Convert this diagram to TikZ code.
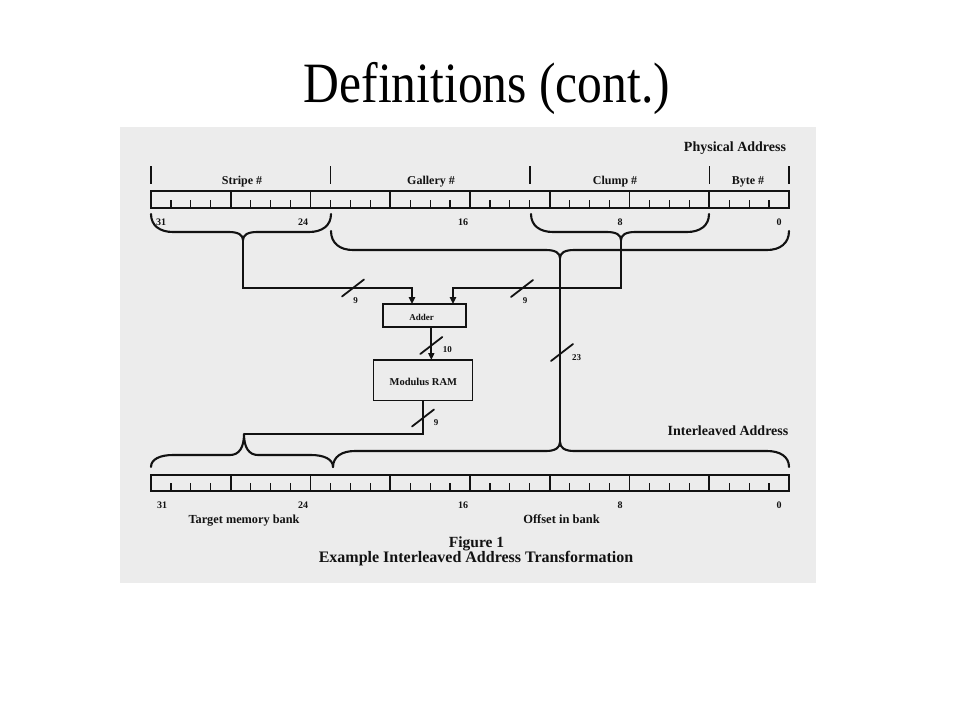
\documentclass[tikz,border=0pt]{standalone}
\usepackage{graphicx}
\usepackage{fontspec}
\setmainfont{Liberation Serif}
\usetikzlibrary{arrows.meta}
\definecolor{scan}{RGB}{236,236,236}
\definecolor{ink}{RGB}{18,18,18}
\tikzset{
  brace/.style={line width=2.1pt, line cap=round, line join=round, draw=ink},
  reg/.style={line width=1.6pt, draw=ink},
  tickst/.style={line width=1.2pt, draw=ink},
  wire/.style={line width=1.8pt, draw=ink},
  arr/.style={wire, -{Triangle[length=7pt,width=6pt]}},
  slashmark/.style={line width=1.8pt, draw=ink, line cap=round},
  boxst/.style={draw=ink, line width=1.5pt, fill=scan, inner sep=0pt, text=ink},
  txt/.style={text=ink, inner sep=0pt, font=\bfseries\fontsize{#1}{#1}\selectfont},
  txt/.default=12,
}
\newcommand\mybrace[6]{% x1, x2, xc, yend, ymid, ycusp
  \draw[brace] (#1,#4) .. controls (#1,{#4+0.65*(#5-#4)}) and ({#1+9},#5) .. ({#1+22},#5)
    -- ({#3-14},#5) .. controls ({#3-5},#5) and (#3,{#5+0.35*(#6-#5)}) .. (#3,#6)
    .. controls (#3,{#5+0.35*(#6-#5)}) and ({#3+5},#5) .. ({#3+14},#5)
    -- ({#2-22},#5) .. controls ({#2-9},#5) and (#2,{#4+0.65*(#5-#4)}) .. (#2,#4);}
\newcommand\register[3]{% top y, bottom y, tick top y
  \draw[reg] (151,#1) rectangle (789,#2);
  \foreach \g in {1,...,7} \draw[reg] ({151+4*\g*19.9375},#1) -- ({151+4*\g*19.9375},#2);
  \foreach \g in {0,...,7} \foreach \t in {1,2,3}
    \draw[tickst] ({151+(4*\g+\t)*19.9375},#3) -- ({151+(4*\g+\t)*19.9375},#2);}
\newcommand\busslash[1]{\draw[slashmark] (#1)+(-11,8.5) -- +(11,-8.5);}
\begin{document}
\begin{tikzpicture}[x=1pt,y=-1pt]
\useasboundingbox (0,0) rectangle (960,720);
\fill[white] (0,0) rectangle (960,720);
\fill[scan] (120,127) rectangle (816,583);

% title
\node[anchor=base, inner sep=0pt, font=\fontsize{57}{60}\selectfont] (title) at (487,102.7) {\scalebox{0.87}[1]{Definitions (cont.)}};

% physical address register
\node[txt=14, anchor=base] (phys) at (735,151) {Physical Address};
\foreach \x in {151,330.5,529.9,709.3,789} \draw[reg] (\x,166) -- (\x,184);
\node[txt=12, anchor=base] (stripe) at (242,184) {Stripe \#};
\node[txt=12, anchor=base] (gallery) at (431,184) {Gallery \#};
\node[txt=12, anchor=base] (clump) at (615,184) {Clump \#};
\node[txt=12, anchor=base] (byte) at (748,184) {Byte \#};
\register{191}{208}{200}
\node[txt=10, anchor=base] (p31) at (161,225.5) {31};
\node[txt=10, anchor=base] (p24) at (303,225.5) {24};
\node[txt=10, anchor=base] (p16) at (463,225.5) {16};
\node[txt=10, anchor=base] (p8) at (620,225.5) {8};
\node[txt=10, anchor=base] (p0) at (779,225.5) {0};

% upper braces
\mybrace{151}{331}{243}{214}{232}{240}
\mybrace{331}{789}{560}{231}{250}{258}
\mybrace{531}{709}{621}{214}{232}{240}
\coordinate (scusp) at (243,240);
\coordinate (ccusp) at (621,240);
\coordinate (gcusp) at (560,258);

% adder and modulus RAM
\node[boxst, minimum width=83pt, minimum height=23pt] (adder) at (424.3,315.7) {};
\node[txt=9] (addertxt) at (421.7,317) {Adder};
\node[boxst, minimum width=99.4pt, minimum height=40.7pt] (ram) at (423,380.3) {};
\node[txt=10.5] (ramtxt) at (423.3,381.7) {Modulus RAM};
\coordinate (addin1) at (412,304.2);
\coordinate (addin2) at (453,304.2);
\coordinate (addout) at (431.3,327.2);
\coordinate (ramin) at (431.3,360);
\coordinate (ramout) at (423,400.6);

\draw[arr] (scusp) -- (243,288) -| (addin1);
\draw[arr] (ccusp) -- (621,288) -| (addin2);
\draw[arr] (addout) -- (ramin);

% interleaved address
\node[txt=14, anchor=base] (inter) at (728,435) {Interleaved Address};
\mybrace{151}{333}{244}{467}{455}{434}
\mybrace{333}{789}{560}{467}{451}{442}
\coordinate (lcusp) at (244,434);
\coordinate (rcusp) at (560,442);
\draw[wire] (ramout) |- (lcusp);
\draw[wire] (gcusp) -- (rcusp);

% bus widths
\coordinate (s1) at (353,288); \busslash{s1}
\coordinate (s2) at (522,288.5); \busslash{s2}
\coordinate (s3) at (431.3,345.5); \busslash{s3}
\coordinate (s4) at (423,418); \busslash{s4}
\coordinate (s5) at (562,352.5); \busslash{s5}
\node[txt=9] (n9a) at (355.7,301) {9};
\node[txt=9] (n9b) at (525,301) {9};
\node[txt=9] (n10) at (447.3,350) {10};
\node[txt=9] (n9c) at (436,422.7) {9};
\node[txt=9] (n23) at (576.7,357.7) {23};

\register{475}{491}{483}
\node[txt=10, anchor=base] (q31) at (162,508) {31};
\node[txt=10, anchor=base] (q24) at (303,508) {24};
\node[txt=10, anchor=base] (q16) at (463,508) {16};
\node[txt=10, anchor=base] (q8) at (620,508) {8};
\node[txt=10, anchor=base] (q0) at (779,508) {0};
\node[txt=12.3, anchor=base] (target) at (244,523.3) {Target memory bank};
\node[txt=12.5, anchor=base] (offset) at (561.5,523.3) {Offset in bank};
\node[txt=15.5, anchor=base] (fig) at (476.5,547.3) {Figure 1};
\node[txt=16, anchor=base] (cap) at (476,562.7) {Example Interleaved Address Transformation};
\end{tikzpicture}
\end{document}
